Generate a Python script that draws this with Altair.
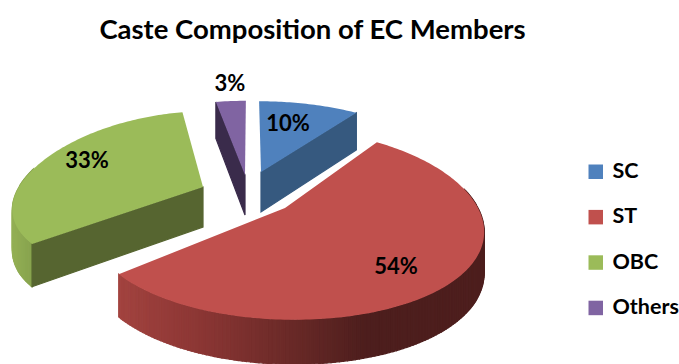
import math
import altair as alt

# Chart values
categories = ["SC", "ST", "OBC", "Others"]
shares = [10, 54, 33, 3]
top_colors = ["#4F81BD", "#C0504D", "#9BBB59", "#8064A2"]

# Layout of the tilted, exploded pie (screen pixels)
APEX = {"SC": (261, 172), "ST": (285, 208), "OBC": (203, 187), "Others": (245, 175)}
LABEL_AT = {"SC": (288, 124), "ST": (396, 267), "OBC": (87, 161), "Others": (230, 84)}
TILT, DEPTH, EYE_X = 0.465, 40, 250
# Horizontal radius, vertical radius and foreshortening for each slice
LENS = {
    "SC": dict(rx=193, ry=184, px=0.21, py=0.21),
    "ST": dict(rx=193, ry=199, px=0.21, py=0.172),
    "OBC": dict(rx=184, ry=180, px=0.21, py=0.10),
    "Others": dict(rx=193, ry=193, px=0.21, py=0.21),
}
# The outer wall only shows on the near part of the rim
NEAR_RIM = (78, 282)


def rim(name, deg):
    """Project the rim point at a clockwise angle from 12 o'clock; also return its wall height."""
    ax, ay = APEX[name]
    lens = LENS[name]
    u, v = math.sin(math.radians(deg)), math.cos(math.radians(deg))
    near = 1 / (1 + lens["px"] * v)
    x = ax + (ax - EYE_X) * (near - 1) + u * lens["rx"] * near
    y = ay - v * lens["ry"] * TILT / (1 + lens["py"] * v)
    return (x, y), DEPTH / (1 + 0.1 * v)


def drop(point, height):
    return (point[0], point[1] + height)


def polygon(points, name, fill):
    ring = [list(p) for p in points] + [list(points[0])]
    return {
        "type": "Feature",
        "geometry": {"type": "Polygon", "coordinates": [ring]},
        "properties": {"name": name, "fill": fill},
    }


def mix(stops, x):
    """Piecewise colour ramp over screen x."""
    if x <= stops[0][0]:
        return stops[0][1]
    for (x0, c0), (x1, c1) in zip(stops, stops[1:]):
        if x <= x1:
            t = (x - x0) / (x1 - x0)
            rgb = [
                round(int(c0[i:i + 2], 16) * (1 - t) + int(c1[i:i + 2], 16) * t)
                for i in (1, 3, 5)
            ]
            return "#%02x%02x%02x" % tuple(rgb)
    return stops[-1][1]


WALL_RAMP = {
    "ST": [(118, "#a2433f"), (200, "#8b3634"), (300, "#662826"), (365, "#4d1e1d"), (490, "#4d1e1d")],
    "OBC": [(12, "#94b055"), (42, "#7f9b49")],
}
RADIAL_WALL = {"SC": "#36597f", "OBC": "#566530", "Others": "#3a2b4b"}

# Slice angles follow from the shares
spans = {}
start = 0.0
for name, share in zip(categories, shares):
    spans[name] = (start, start + share * 3.6)
    start += share * 3.6

walls, tops = [], []
for name in ["Others", "SC", "OBC", "ST"]:
    color = top_colors[categories.index(name)]
    a0, a1 = spans[name]
    steps = max(2, int(a1 - a0))
    angles = [a0 + (a1 - a0) * i / steps for i in range(steps + 1)]
    arc = [rim(name, a) for a in angles]
    apex = APEX[name]
    apex_low = (apex[0], apex[1] + DEPTH)

    # Outer wall strips along the rim
    if name in WALL_RAMP:
        for a, (p, hp), (q, hq) in zip(angles, arc, arc[1:]):
            if NEAR_RIM[0] <= a <= NEAR_RIM[1]:
                fill = mix(WALL_RAMP[name], (p[0] + q[0]) / 2)
                walls.append(polygon([p, q, drop(q, hq), drop(p, hp)], name, fill))

    # Radial wall seen through the exploded gap
    if name in RADIAL_WALL:
        edge, height = rim(name, a1 if name == "SC" else a0)
        walls.append(polygon([apex, edge, drop(edge, height), apex_low], name, RADIAL_WALL[name]))

    tops.append(polygon([apex] + [p for p, _ in arc], name, color))

labels = [
    {"x": LABEL_AT[n][0], "y": LABEL_AT[n][1], "label": f"{v}%"}
    for n, v in zip(categories, shares)
]

identity = dict(type="identity", scale=1, translate=[0, 0])

wall_layer = (
    alt.Chart(alt.Data(values=walls))
    .mark_geoshape(strokeWidth=1.2)
    .encode(
        color=alt.Color("properties.fill:N", scale=None, legend=None),
        stroke=alt.Stroke("properties.fill:N", scale=None, legend=None),
    )
    .project(**identity)
)

top_layer = (
    alt.Chart(alt.Data(values=tops))
    .mark_geoshape(strokeWidth=0)
    .encode(
        color=alt.Color(
            "properties.name:N",
            scale=alt.Scale(domain=categories, range=top_colors),
            legend=alt.Legend(
                title=None,
                orient="none",
                legendX=585,
                legendY=161,
                symbolType="square",
                symbolSize=210,
                symbolStrokeWidth=0,
                labelFont="Lato",
                labelFontWeight="bold",
                labelFontSize=21.5,
                labelColor="#000000",
                labelOffset=6,
                labelLimit=120,
                rowPadding=22.4,
                padding=0,
            ),
        )
    )
    .project(**identity)
)

label_layer = (
    alt.Chart(alt.Data(values=labels))
    .mark_text(font="Lato", fontWeight="bold", fontSize=22, color="#000000")
    .encode(longitude="x:Q", latitude="y:Q", text="label:N")
    .project(**identity)
)

chart = (
    alt.layer(wall_layer, top_layer, label_layer)
    .resolve_scale(color="independent", stroke="independent")
    .properties(
        width=679,
        height=364,
        padding=0,
        autosize=alt.AutoSizeParams(type="none"),
        title=alt.TitleParams(
            "Caste Composition of EC Members",
            font="Lato",
            fontWeight="bold",
            fontSize=27.5,
            color="#000000",
            anchor="middle",
            dx=-27,
            dy=48,
        ),
    )
    .configure_view(stroke=None)
)

chart.save("out.html", embed_options={"renderer": "svg", "actions": False})
